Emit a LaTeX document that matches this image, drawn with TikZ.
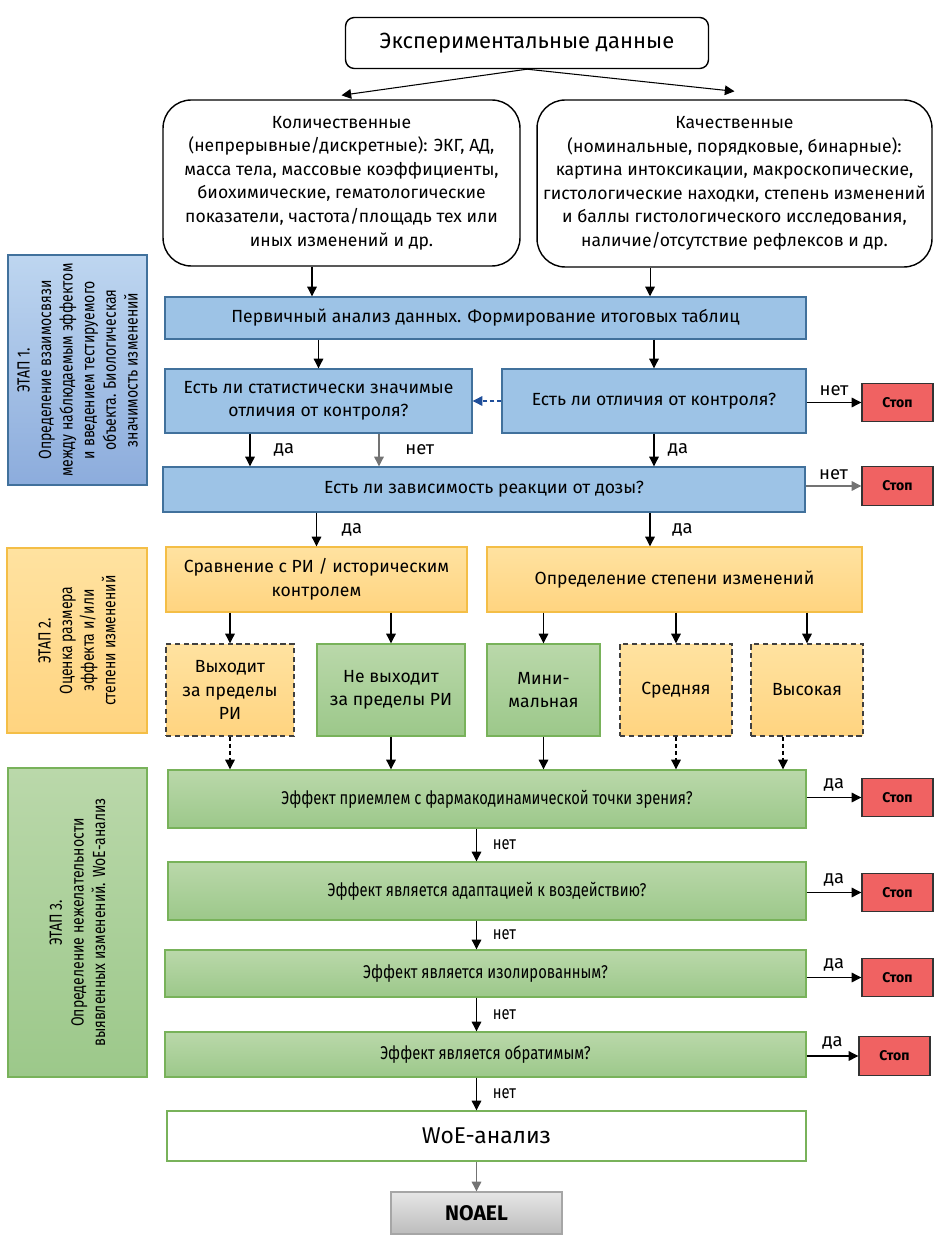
\documentclass[tikz,border=0pt]{standalone}
\usepackage{fontspec}
\setmainfont{Fira Sans}
\newfontfamily\condfont[FakeStretch=0.8]{Fira Sans}
\usetikzlibrary{positioning, arrows.meta, calc}

\definecolor{fillblue}{RGB}{157,195,230}
\definecolor{lineblue}{RGB}{65,113,156}
\definecolor{stageblueA}{RGB}{190,214,240}
\definecolor{stageblueB}{RGB}{140,172,220}
\definecolor{orangetop}{RGB}{255,226,160}
\definecolor{orangebot}{RGB}{255,212,128}
\definecolor{lineorange}{RGB}{244,190,70}
\definecolor{greentop}{RGB}{186,216,170}
\definecolor{greenbot}{RGB}{156,200,138}
\definecolor{linegreen}{RGB}{120,178,90}
\definecolor{stopred}{RGB}{240,98,98}
\definecolor{noaeltop}{RGB}{230,230,230}
\definecolor{noaelbot}{RGB}{188,188,188}
\definecolor{dashblue}{RGB}{31,78,154}

\begin{document}
\begin{tikzpicture}[
  x=0.02cm, y=-0.02cm,
  >={Triangle[length=5.5pt, width=5.5pt]},
  every node/.style={font=\fontsize{10}{13.4}\selectfont, align=center},
  flow/.style={->, line width=0.6pt},
  grayflow/.style={flow, black!55},
  dashflow/.style={flow, dash pattern=on 2.5pt off 1.5pt},
  roundbox/.style={draw, line width=0.8pt, rounded corners=16pt, fill=white, inner sep=2pt},
  bluebox/.style={draw=lineblue, fill=fillblue, line width=0.8pt, inner sep=2pt},
  orangebox/.style={draw=lineorange, top color=orangetop, bottom color=orangebot, line width=0.8pt, inner sep=2pt},
  greenbox/.style={draw=linegreen, top color=greentop, bottom color=greenbot, line width=0.8pt, inner sep=2pt},
  pending/.style={orangebox, draw=black!75, dash pattern=on 3pt off 2pt},
  question/.style={greenbox, font=\condfont\fontsize{10.5}{13}\selectfont},
  stopbox/.style={draw=black!80, fill=stopred, line width=0.8pt, minimum width=1.42cm, minimum height=0.77cm, font=\fontsize{8}{9}\selectfont\bfseries},
  stage/.style={rotate=90, line width=0.8pt, font=\condfont\fontsize{10}{12.3}\selectfont},
  lbl/.style={font=\fontsize{10.5}{12}\selectfont},
  clbl/.style={font=\condfont\fontsize{10.5}{12}\selectfont}
]
\useasboundingbox (0,0) rectangle (945,1256);

% Data sources
\node[roundbox, rounded corners=5pt, minimum width=7.26cm, minimum height=1.02cm, font=\fontsize{12.5}{15}\selectfont] (data) at (527,43) {Экспериментальные данные};
\node[roundbox, minimum width=7.14cm, minimum height=3.32cm] (quant) at (341.5,183) {Количественные\\(непрерывные/дискретные): ЭКГ, АД,\\масса тела, массовые коэффициенты,\\биохимические, гематологические\\показатели, частота/площадь тех или\\иных изменений и др.};
\node[roundbox, minimum width=7.9cm, minimum height=3.34cm] (qual) at (734.5,183.5) {Качественные\\(номинальные, порядковые, бинарные):\\картина интоксикации, макроскопические,\\гистологические находки, степень изменений\\и баллы гистологического исследования,\\наличие/отсутствие рефлексов и др.};
\draw[flow] (data.south) -- ([yshift=0.08cm]quant.north);
\draw[flow] (data.south) -- ([yshift=0.16cm]qual.north);

% Stage 1 (blue)
\node[stage, draw=lineblue, top color=stageblueA, bottom color=stageblueB, minimum width=4.6cm, minimum height=2.78cm] (st1) at (77.5,370) {ЭТАП 1.\\Определение взаимосвязи\\между наблюдаемым эффектом\\и введением тестируемого\\объекта. Биологическая\\значимость изменений};
\node[bluebox, minimum width=12.82cm, minimum height=0.84cm] (prim) at (485.5,318) {Первичный анализ данных. Формирование итоговых таблиц};
\node[bluebox, minimum width=6.14cm, minimum height=1.28cm] (stat) at (318.5,401) {Есть ли статистически значимые\\отличия от контроля?};
\node[bluebox, minimum width=6.08cm, minimum height=1.28cm] (diff) at (654,401) {Есть ли отличия от контроля?};
\node[bluebox, minimum width=12.84cm, minimum height=0.9cm] (dose) at (484,489.5) {Есть ли зависимость реакции от дозы?};
\node[stopbox] (stop1) at (897.5,402.5) {Стоп};
\node[stopbox] (stop2) at (897.5,486) {Стоп};

\draw[flow] ([xshift=-0.59cm]quant.south) -- ([xshift=-0.59cm]quant.south |- prim.north);
\draw[flow] ([xshift=-1.69cm]qual.south) -- ([xshift=-1.69cm]qual.south |- prim.north);
\draw[flow] (prim.south -| stat) -- (stat.north);
\draw[flow] (prim.south -| diff) -- (diff.north);
\draw[flow, dashblue, dash pattern=on 2.5pt off 1.5pt] (diff.west) -- (stat.east);
\draw[flow] ([xshift=-1.37cm]stat.south) -- ([xshift=-1.37cm]stat.south |- dose.north) node[midway, right=0.35cm, lbl] {да};
\draw[grayflow] ([xshift=1.21cm]stat.south) -- ([xshift=1.21cm]stat.south |- dose.north) node[midway, right=0.4cm, lbl, black] {нет};
\draw[flow] (diff.south) -- (diff.south |- dose.north) node[midway, right=0.15cm, lbl] {да};
\draw[flow] (diff.east |- stop1) -- (stop1.west) node[midway, above, lbl] {нет};
\draw[grayflow] (dose.east |- stop2) -- (stop2.west) node[midway, above, lbl, black] {нет};

% Stage 2 (orange)
\node[stage, draw=lineorange, top color=orangetop, bottom color=orangebot, minimum width=3.7cm, minimum height=2.8cm] (st2) at (77,640.5) {ЭТАП 2.\\Оценка размера\\эффекта и/или\\степени изменений};
\node[orangebox, minimum width=6.02cm, minimum height=1.3cm] (cmp) at (316.5,579.5) {Сравнение с РИ / историческим\\контролем};
\node[orangebox, minimum width=7.5cm, minimum height=1.3cm] (deg) at (674.5,579.5) {Определение степени изменений};
\node[pending, minimum width=2.56cm, minimum height=1.84cm] (out) at (230,690) {Выходит\\за пределы\\РИ};
\node[greenbox, minimum width=2.96cm, minimum height=1.84cm] (inr) at (391,690) {Не выходит\\за пределы РИ};
\node[greenbox, minimum width=2.26cm, minimum height=1.84cm] (minl) at (543.5,690) {Мини-\\мальная};
\node[pending, minimum width=2.24cm, minimum height=1.84cm] (mid) at (676,690) {Средняя};
\node[pending, minimum width=2.24cm, minimum height=1.84cm] (high) at (807,690) {Высокая};

\draw[flow] (dose.south -| cmp) -- (cmp.north) node[midway, right=0.38cm, lbl] {да};
\draw[flow] ([xshift=-0.49cm]dose.south -| deg) -- ([xshift=-0.49cm]deg.north) node[midway, right=0.32cm, lbl] {да};
\foreach \n in {out, inr} {
  \draw[flow] (cmp.south -| \n) -- (\n.north);
}
\foreach \n in {minl, mid, high} {
  \draw[flow] (deg.south -| \n) -- (\n.north);
}

% Stage 3 (green)
\node[stage, draw=linegreen, top color=greentop, bottom color=greenbot, minimum width=6.18cm, minimum height=2.78cm] (st3) at (77.5,922.5) {ЭТАП 3.\\Определение нежелательности\\выявленных изменений. WoE-анализ};
\node[question, minimum width=12.76cm, minimum height=1.16cm] (accept) at (487,799) {Эффект приемлем с фармакодинамической точки зрения?};
\node[question, minimum width=12.76cm, minimum height=1.16cm] (adapt) at (487,891) {Эффект является адаптацией к воздействию?};
\node[question, minimum width=12.82cm, minimum height=0.94cm] (isol) at (485.5,973.5) {Эффект является изолированным?};
\node[question, minimum width=12.82cm, minimum height=0.9cm] (rev) at (485.5,1054.5) {Эффект является обратимым?};
\node[draw=linegreen, fill=white, line width=0.8pt, minimum width=12.78cm, minimum height=1.0cm, font=\fontsize{13}{15}\selectfont] (woe) at (486.5,1136) {WoE-анализ};
\node[draw=black!35, top color=noaeltop, bottom color=noaelbot, line width=0.8pt, minimum width=3.42cm, minimum height=0.84cm, font=\fontsize{12}{14}\selectfont\bfseries] (noael) at (476.5,1213) {NOAEL};

\draw[dashflow] (out.south) -- (out.south |- accept.north);
\draw[flow] (inr.south) -- (inr.south |- accept.north);
\draw[flow] (minl.south) -- (minl.south |- accept.north);
\draw[dashflow] (mid.south) -- (mid.south |- accept.north);
\draw[dashflow] ([xshift=-0.48cm]high.south) -- ([xshift=-0.48cm]high.south |- accept.north);

\foreach \a/\b in {accept/adapt, adapt/isol, isol/rev, rev/woe} {
  \draw[flow] (\a.south -| noael) -- (\b.north -| noael) node[midway, right=0.2cm, clbl] {нет};
}
\draw[grayflow] (woe.south -| noael) -- (noael.north);

% Stop exits
\foreach \n/\q/\x/\y in {3/accept/897.5/797.5, 4/adapt/897.5/892.5, 5/isol/897.5/977.5, 6/rev/894.5/1056} {
  \node[stopbox] (stop\n) at (\x,\y) {Стоп};
  \draw[flow] (\q.east |- stop\n) -- (stop\n.west) node[midway, above, lbl] {да};
}
\end{tikzpicture}
\end{document}
